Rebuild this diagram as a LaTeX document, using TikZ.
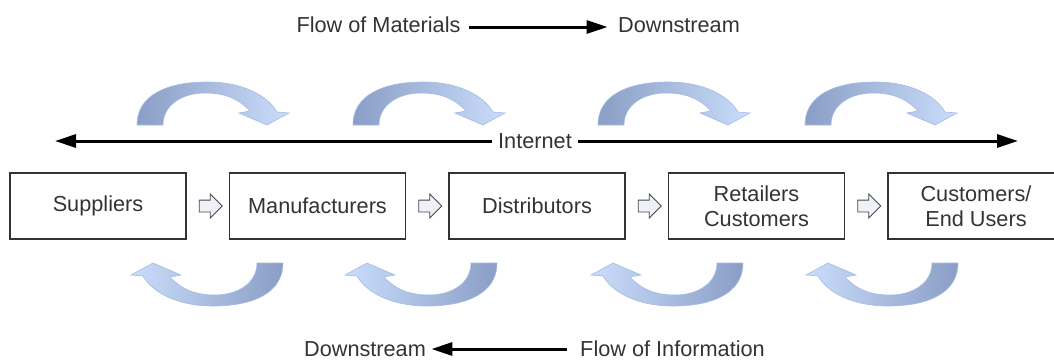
\documentclass[tikz,border=0pt]{standalone}
\usepackage{xcolor}
\usepackage{fontspec}
\setmainfont{Liberation Sans}
\usepackage{tikz}
\usetikzlibrary{positioning,arrows,arrows.meta,shapes.arrows}

\definecolor{txt}{HTML}{333333}
\definecolor{arcdark}{HTML}{8A9EC6}
\definecolor{arclight}{HTML}{CADDFB}
\definecolor{arcline}{HTML}{A3BBE3}
\definecolor{hollow}{HTML}{EEF1F8}

\tikzset{
  pics/bend/.style={code={
    \path[draw=arcline,line width=0.6pt,#1] (0,0) .. controls (0,-30) and (30,-43) .. (70,-43)
      .. controls (105,-43) and (130,-30) .. (140,-13) -- (152,-12) -- (130,0) -- (102,-12) -- (113,-14)
      .. controls (100,-28) and (85,-32) .. (68,-32) .. controls (45,-32) and (26,-20) .. (26,0) -- cycle;
  }}
}

\begin{document}
\begin{tikzpicture}[x=1pt,y=-1pt,node distance=219.5pt,on grid,
    font=\fontsize{21.7}{25.5}\selectfont,text=txt]
        \tikzstyle{stage}=[draw=txt,line width=1.2pt,minimum width=176pt,minimum height=66pt,align=center,inner sep=0pt]
        \tikzstyle{hop}=[single arrow,draw=txt!90,fill=hollow,line width=0.8pt,minimum height=23pt,
            inner xsep=0pt,inner ysep=5.5pt,single arrow head extend=6pt]
        \tikzstyle{flow}=[line width=3pt,-{Triangle[length=21pt,width=13pt]}]
        \useasboundingbox (0,0) rectangle (1054,360);
        \clip (0,0) rectangle (1054,360);

        % top legend
        \node (fm) at (378.5,25) {Flow of Materials};
        \node (dt) at (679,25) {Downstream};
        \draw[flow,shorten <=5pt,shorten >=7pt] ([yshift=-2pt]fm.east) -- ([yshift=-2pt]dt.west);

        % internet
        \coordinate (iL) at (55,141);
        \coordinate (iR) at (1018,141);
        \node[fill=white,inner sep=6pt] (net) at (535,141) {Internet};
        \draw[flow] (net.west) -- (iL);
        \draw[flow] (net.east) -- (iR);

        % chain
        \node[stage] (Sp) at (98,206) {Suppliers};
        \node[stage] (Mf) [right=of Sp] {Manufacturers};
        \node[stage] (Ds) [right=of Mf] {Distributors};
        \node[stage] (Rt) [right=of Ds] {Retailers\\Customers};
        \node[stage] (Cu) [right=of Rt] {Customers/\\End Users};
        \node[hop] (h1) [right=109.75pt of Sp] {};
        \node[hop] (h2) [right=109.75pt of Mf] {};
        \node[hop] (h3) [right=109.75pt of Ds] {};
        \node[hop] (h4) [right=109.75pt of Rt] {};

        % curved arrows
        \foreach \x in {137,353,598,805}
            \pic at (\x,125) {bend={left color=arcdark,right color=arclight}};
        \foreach \x in {283,497,743,958}
            \pic[rotate=180] at (\x,263) {bend={left color=arclight,right color=arcdark}};

        % bottom legend
        \node (db) at (365,349) {Downstream};
        \node (fi) at (672.5,349) {Flow of Information};
        \draw[flow,shorten <=10pt,shorten >=2pt] (fi.west) -- (db.east);
    \end{tikzpicture}
\end{document}
